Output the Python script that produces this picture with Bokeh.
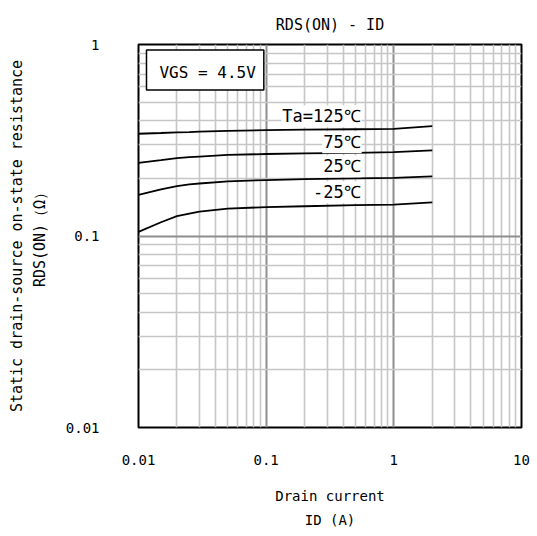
from bokeh.plotting import figure
from bokeh.models import FixedTicker, Label
from bokeh.embed import file_html
from bokeh.resources import INLINE

# Data
id_a = [0.01, 0.015, 0.02, 0.025, 0.03, 0.05, 0.1, 0.2, 0.5, 1.0, 2.0]
r_125 = [0.342, 0.345, 0.348, 0.349, 0.351, 0.354, 0.357, 0.359, 0.361, 0.363, 0.375]
r_75 = [0.241, 0.249, 0.255, 0.258, 0.260, 0.265, 0.268, 0.270, 0.272, 0.274, 0.280]
r_25 = [0.164, 0.175, 0.182, 0.186, 0.188, 0.193, 0.196, 0.198, 0.200, 0.201, 0.205]
r_m25 = [0.105, 0.118, 0.127, 0.131, 0.134, 0.139, 0.1415, 0.143, 0.145, 0.146, 0.150]
series = [r_125, r_75, r_25, r_m25]
curve_labels = ["Ta=125℃", "75℃", "25℃", "-25℃"]
label_y = [0.422, 0.309, 0.231, 0.169]

x_ticks = [0.01, 0.1, 1, 10]
x_tick_labels = ["0.01", "0.1", "1", "10"]
y_ticks = [0.01, 0.1, 1]
y_tick_labels = ["0.01", "0.1", "1"]

FONT = "DejaVu Sans Mono"

p = figure(x_axis_type="log", y_axis_type="log",
           x_range=(0.01, 10), y_range=(0.01, 1),
           output_backend="svg", toolbar_location=None,
           title="RDS(ON) - ID",
           min_border_left=138, min_border_right=16, min_border_top=44, min_border_bottom=109)
p.frame_width = 383
p.frame_height = 383

p.title.align = "center"
p.title.text_font = FONT
p.title.text_font_size = "15px"
p.title.text_font_style = "normal"
p.title.text_color = "black"
p.title.standoff = 22

def minors(decades):
    out = []
    for d in decades:
        for k in range(2, 10):
            out.append(k * d)
    return out

p.xaxis.ticker = FixedTicker(ticks=x_ticks, minor_ticks=minors([0.01, 0.1, 1]))
p.yaxis.ticker = FixedTicker(ticks=y_ticks, minor_ticks=minors([0.01, 0.1]))
p.xaxis.major_label_overrides = dict(zip(x_ticks, x_tick_labels))
p.yaxis.major_label_overrides = dict(zip(y_ticks, y_tick_labels))

for ax in (p.xaxis, p.yaxis):
    ax.axis_line_color = None
    ax.major_tick_line_color = None
    ax.minor_tick_line_color = None
    ax.major_label_text_font = FONT
    ax.major_label_text_font_size = "14px"
    ax.major_label_text_color = "black"
    ax.axis_label_text_font = FONT
    ax.axis_label_text_font_style = "normal"
    ax.axis_label_text_color = "black"

p.xaxis.axis_label_text_font_size = "14px"
p.yaxis.axis_label_text_font_size = "15px"
p.xaxis.axis_label_text_line_height = 1.5
p.yaxis.axis_label_text_line_height = 1.25

p.xaxis.major_label_standoff = 21
p.yaxis.major_label_standoff = 33
p.xaxis.axis_label = "Drain current\nID (A)"
p.xaxis.axis_label_standoff = 20
p.yaxis.axis_label = "Static drain-source on-state resistance\nRDS(ON)（Ω）"
p.yaxis.axis_label_standoff = 14

for g in (p.xgrid, p.ygrid):
    g.grid_line_color = "#8e8e8e"
    g.grid_line_width = 2
    g.minor_grid_line_color = "#c6c6c6"
    g.minor_grid_line_width = 1.6

p.outline_line_color = "black"
p.outline_line_width = 2

for r in series:
    p.line(id_a, r, line_color="black", line_width=1.8)

for txt, ly in zip(curve_labels, label_y):
    p.add_layout(Label(x=0.56, y=ly, text=txt, text_align="right", text_baseline="middle",
                       text_font=FONT, text_font_size="17px", text_color="black",
                       background_fill_color="white", padding=1))

p.add_layout(Label(x=0.01155, y=0.736, text="VGS = 4.5V", text_align="left", text_baseline="middle",
                   text_font=FONT, text_font_size="16px", text_color="black",
                   background_fill_color="white", border_line_color="black", border_line_width=1.5,
                   padding=[13, 8, 13, 8]))

open("out.html", "w").write(file_html(p, INLINE))
